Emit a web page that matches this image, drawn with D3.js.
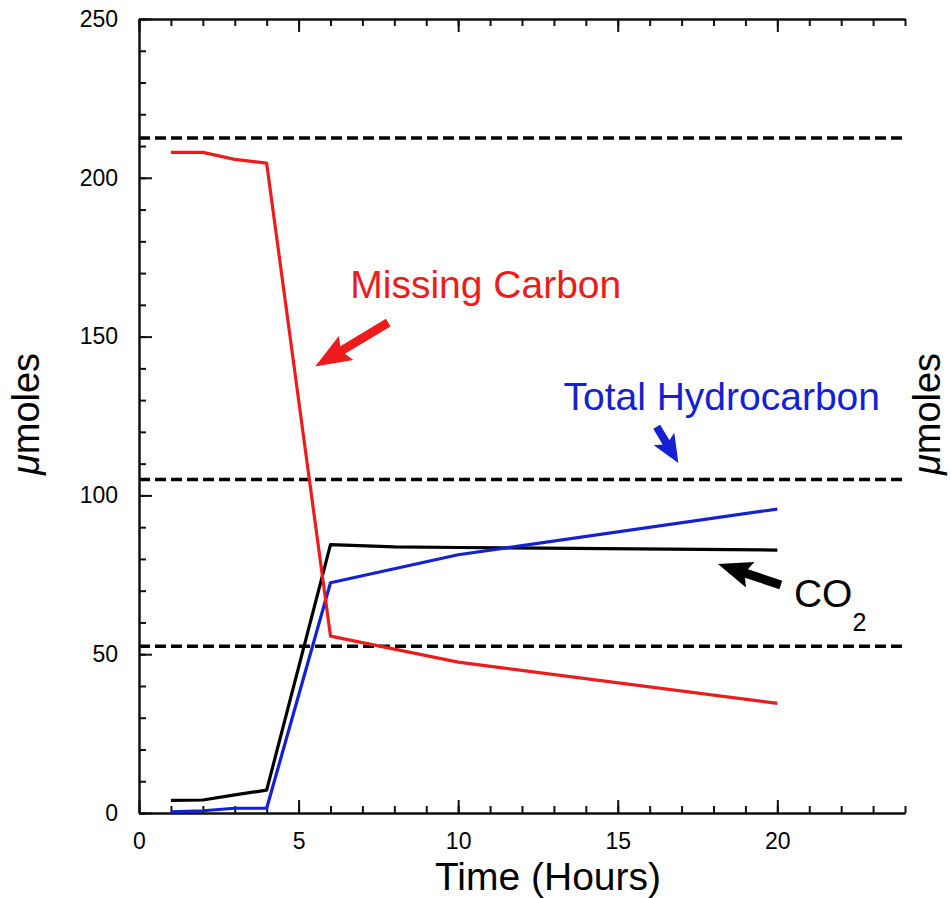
<!DOCTYPE html>
<html><head><meta charset="utf-8">
<script src="https://cdn.jsdelivr.net/npm/d3@7"></script>
<style>
body{margin:0;background:#fff}
text{font-family:"Liberation Sans",Arial,Helvetica,sans-serif}
</style>
</head><body>
<svg id="c" width="951" height="898"></svg>
<script>
// ---- data ----
const hours = [1, 2, 3, 4, 6, 10, 20];
const missingCarbon = [208, 208, 205.8, 204.6, 55.7, 47.5, 34.5];
const totalHydrocarbon = [0.4, 0.7, 1.5, 1.5, 72.5, 81.3, 95.7];
const co2Hours = [1, 2, 3, 4, 6, 8, 10, 20];
const co2 = [4, 4.1, 5.7, 7.2, 84.5, 83.8, 83.6, 82.8];
const referenceLevels = [212.5, 105, 52.5];
const xMajorTicks = [0, 5, 10, 15, 20];
const xMinorTicks = d3.range(0, 25, 1);
const yMajorTicks = [0, 50, 100, 150, 200, 250];
const yMinorTicks = d3.range(0, 251, 10);

// ---- annotations (data coordinates) ----
const labelMissing = {text: "Missing Carbon", x: 6.62, y: 162.2};
const labelHC = {text: "Total Hydrocarbon", x: 13.3, y: 126.9};
const labelCO2 = {x: 20.52, y: 64.9};
const arrowMissing = {from: [7.81, 154.4], to: [5.52, 140.6]};
const arrowHC = {from: [16.22, 121.6], to: [16.9, 110.2]};
const arrowCO2 = {from: [20.11, 71.8], to: [18.14, 78.4]};

const svg = d3.select("#c");
const x = d3.scaleLinear().domain([0, 24]).range([139, 905]);
const y = d3.scaleLinear().domain([0, 250]).range([813, 19]);

const RED = "#ec1c1c", BLUE = "#1420d2", BLACK = "#000";

// ---- reference dashed lines ----
svg.selectAll("line.ref").data(referenceLevels).enter().append("line")
  .attr("x1", x(0)).attr("x2", x(24))
  .attr("y1", d => y(d)).attr("y2", d => y(d))
  .attr("stroke", "#000").attr("stroke-width", 3.5)
  .attr("stroke-dasharray", "11,5");

// ---- axes ----
function styleAxis(g) {
  g.select(".domain").attr("stroke", "#111").attr("stroke-width", 2);
  g.selectAll(".tick line").attr("stroke", "#111").attr("stroke-width", 2);
  g.selectAll("text").attr("font-size", 23).attr("fill", "#000")
    .style("font-family", '"Liberation Sans",Arial,sans-serif');
}
// bottom
svg.append("g").attr("transform", `translate(0,${y(0)})`)
  .call(d3.axisBottom(x).tickValues(xMinorTicks).tickSize(-7).tickFormat("").tickSizeOuter(0))
  .call(styleAxis);
svg.append("g").attr("transform", `translate(0,${y(0)})`)
  .call(d3.axisBottom(x).tickValues(xMajorTicks).tickSize(-13).tickPadding(20).tickSizeOuter(0))
  .call(styleAxis);
// top
svg.append("g").attr("transform", `translate(0,${y(250)})`)
  .call(d3.axisTop(x).tickValues(xMinorTicks).tickSize(-7).tickFormat("").tickSizeOuter(0))
  .call(styleAxis);
svg.append("g").attr("transform", `translate(0,${y(250)})`)
  .call(d3.axisTop(x).tickValues(xMajorTicks).tickSize(-13).tickFormat("").tickSizeOuter(0))
  .call(styleAxis);
// left
svg.append("g").attr("transform", `translate(${x(0)},0)`)
  .call(d3.axisLeft(y).tickValues(yMinorTicks).tickSize(-7).tickFormat("").tickSizeOuter(0))
  .call(styleAxis);
svg.append("g").attr("transform", `translate(${x(0)},0)`)
  .call(d3.axisLeft(y).tickValues(yMajorTicks).tickSize(-13).tickPadding(21).tickSizeOuter(0))
  .call(styleAxis);

// ---- lines ----
const line = d3.line().x(d => x(d[0])).y(d => y(d[1]));
function drawSeries(xs, ys, color) {
  svg.append("path").datum(xs.map((v, i) => [v, ys[i]]))
    .attr("d", line).attr("fill", "none")
    .attr("stroke", color).attr("stroke-width", 3.2)
    .attr("stroke-linejoin", "round");
}
drawSeries(co2Hours, co2, BLACK);
drawSeries(hours, totalHydrocarbon, BLUE);
drawSeries(hours, missingCarbon, RED);

// ---- arrows ----
function arrow(a, color, sw, hl, hw) {
  const tx = x(a.from[0]), ty = y(a.from[1]);
  const px = x(a.to[0]), py = y(a.to[1]);
  const L = Math.hypot(px - tx, py - ty);
  const ux = (px - tx) / L, uy = (py - ty) / L;
  const nx = -uy, ny = ux;
  const bx = px - ux * hl, by = py - uy * hl;
  const pts = [
    [tx + nx * sw / 2, ty + ny * sw / 2],
    [bx + nx * sw / 2, by + ny * sw / 2],
    [bx - ux * 4 + nx * hw / 2, by - uy * 4 + ny * hw / 2],
    [px, py],
    [bx - ux * 4 - nx * hw / 2, by - uy * 4 - ny * hw / 2],
    [bx - nx * sw / 2, by - ny * sw / 2],
    [tx - nx * sw / 2, ty - ny * sw / 2]
  ];
  svg.append("polygon").attr("points", pts.map(p => p.join(",")).join(" "))
    .attr("fill", color);
}
arrow(arrowMissing, RED, 9, 32, 28);
arrow(arrowHC, BLUE, 8, 24, 24);
arrow(arrowCO2, BLACK, 9, 30, 27);

// ---- text annotations ----
svg.append("text").attr("x", x(labelMissing.x)).attr("y", y(labelMissing.y))
  .attr("font-size", 39).attr("fill", RED).text(labelMissing.text);
svg.append("text").attr("x", x(labelHC.x)).attr("y", y(labelHC.y))
  .attr("font-size", 39).attr("fill", BLUE).text(labelHC.text);
const co2t = svg.append("text").attr("x", x(labelCO2.x)).attr("y", y(labelCO2.y))
  .attr("font-size", 39).attr("fill", "#000");
co2t.append("tspan").text("CO");
co2t.append("tspan").attr("font-size", 25).attr("dy", 24).text("2");

// ---- axis titles ----
svg.append("text").attr("x", 548).attr("y", 890).attr("text-anchor", "middle")
  .attr("font-size", 39).text("Time (Hours)");
function yTitle(bx) {
  const t = svg.append("text").attr("transform", `translate(${bx},414) rotate(-90)`)
    .attr("text-anchor", "middle").attr("font-size", 38);
  t.append("tspan").attr("font-style", "italic").text("μ");
  t.append("tspan").text("moles");
}
yTitle(39);
yTitle(940);
</script>
</body></html>
